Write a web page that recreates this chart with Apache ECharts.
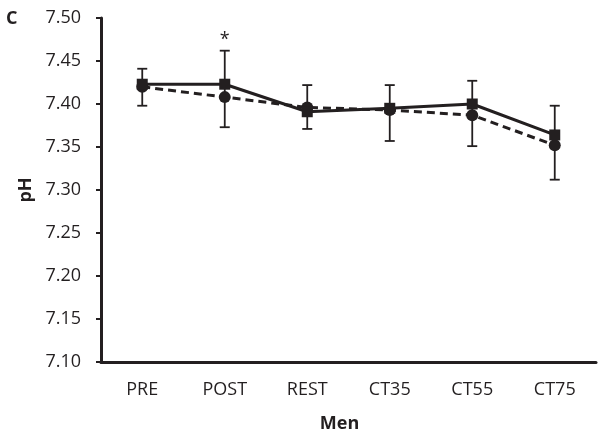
<!DOCTYPE html>
<html><head><meta charset="utf-8">
<script src="https://cdn.jsdelivr.net/npm/echarts@6/dist/echarts.min.js"></script>
<style>html,body{margin:0;padding:0;background:#fff}#c{width:600px;height:438px}</style>
</head><body><div id="c"></div>
<script>
var categories = ['PRE', 'POST', 'REST', 'CT35', 'CT55', 'CT75'];
var squareSeries = [7.423, 7.423, 7.391, 7.395, 7.400, 7.364];
var circleSeries = [7.420, 7.408, 7.396, 7.393, 7.387, 7.352];
var errLow = [7.398, 7.373, 7.371, 7.357, 7.351, 7.312];
var errHigh = [7.441, 7.462, 7.422, 7.422, 7.427, 7.398];
var yTicks = [7.10, 7.15, 7.20, 7.25, 7.30, 7.35, 7.40, 7.45, 7.50];
var starLabel = { cat: 'POST', value: 7.475, text: '*' };

var ink = '#231f20';
var font = '"Open Sans", "Noto Sans", sans-serif';
var chart = echarts.init(document.getElementById('c'), null, { renderer: 'canvas' });

var errData = categories.map(function (c, i) { return [i, errLow[i], errHigh[i]]; });

chart.setOption({
  animation: false,
  grid: { left: 101, right: 4, top: 18, bottom: 76, containLabel: false },
  graphic: [
    { type: 'text', left: 6, top: 10, style: { text: 'C', font: 'bold 18px ' + font, fill: ink } }
  ],
  xAxis: {
    type: 'category', data: categories, boundaryGap: true,
    name: 'Men', nameLocation: 'middle', nameGap: 53,
    nameTextStyle: { fontFamily: font, fontWeight: 'bold', fontSize: 18, color: ink, padding: [0, 18, 0, 0] },
    axisLine: { lineStyle: { color: ink, width: 3 } },
    axisTick: { alignWithLabel: true, length: 5, lineStyle: { color: ink, width: 2 } },
    axisLabel: { fontFamily: font, fontSize: 18, color: ink, margin: 19 },
    splitLine: { show: false }
  },
  yAxis: {
    type: 'value', min: 7.10, max: 7.50, interval: 0.05,
    name: 'pH', nameLocation: 'middle', nameGap: 66, nameRotate: 90,
    nameTextStyle: { fontFamily: font, fontWeight: 'bold', fontSize: 18, color: ink },
    axisLine: { show: true, lineStyle: { color: ink, width: 3 } },
    axisTick: { show: true, length: 5, lineStyle: { color: ink, width: 2 } },
    axisLabel: { fontFamily: font, fontSize: 18, color: ink, margin: 20,
      formatter: function (v) { return v.toFixed(2); } },
    splitLine: { show: false }
  },
  series: [
    {
      type: 'custom', z: 1,
      renderItem: function (params, api) {
        var x = api.value(0);
        var lo = api.coord([x, api.value(1)]);
        var hi = api.coord([x, api.value(2)]);
        var w = 5;
        var st = { stroke: ink, lineWidth: 1.8 };
        return { type: 'group', children: [
          { type: 'line', shape: { x1: lo[0], y1: lo[1], x2: hi[0], y2: hi[1] }, style: st },
          { type: 'line', shape: { x1: lo[0] - w, y1: lo[1], x2: lo[0] + w, y2: lo[1] }, style: st },
          { type: 'line', shape: { x1: hi[0] - w, y1: hi[1], x2: hi[0] + w, y2: hi[1] }, style: st }
        ] };
      },
      encode: { x: 0, y: [1, 2] },
      data: errData
    },
    {
      type: 'line', name: 'square', data: squareSeries, z: 3,
      symbol: 'rect', symbolSize: 11,
      lineStyle: { color: ink, width: 3 },
      itemStyle: { color: ink, borderWidth: 0 },
      markPoint: {
        symbol: 'circle', symbolSize: 1, itemStyle: { color: 'rgba(0,0,0,0)' },
        label: { show: true, position: 'inside', formatter: starLabel.text,
          fontFamily: font, fontSize: 18, color: ink },
        data: [{ coord: [starLabel.cat, starLabel.value] }]
      }
    },
    {
      type: 'line', name: 'circle', data: circleSeries, z: 2,
      symbol: 'circle', symbolSize: 12,
      lineStyle: { color: ink, width: 3, type: [8, 5] },
      itemStyle: { color: ink, borderWidth: 0 }
    }
  ]
});
</script></body></html>
